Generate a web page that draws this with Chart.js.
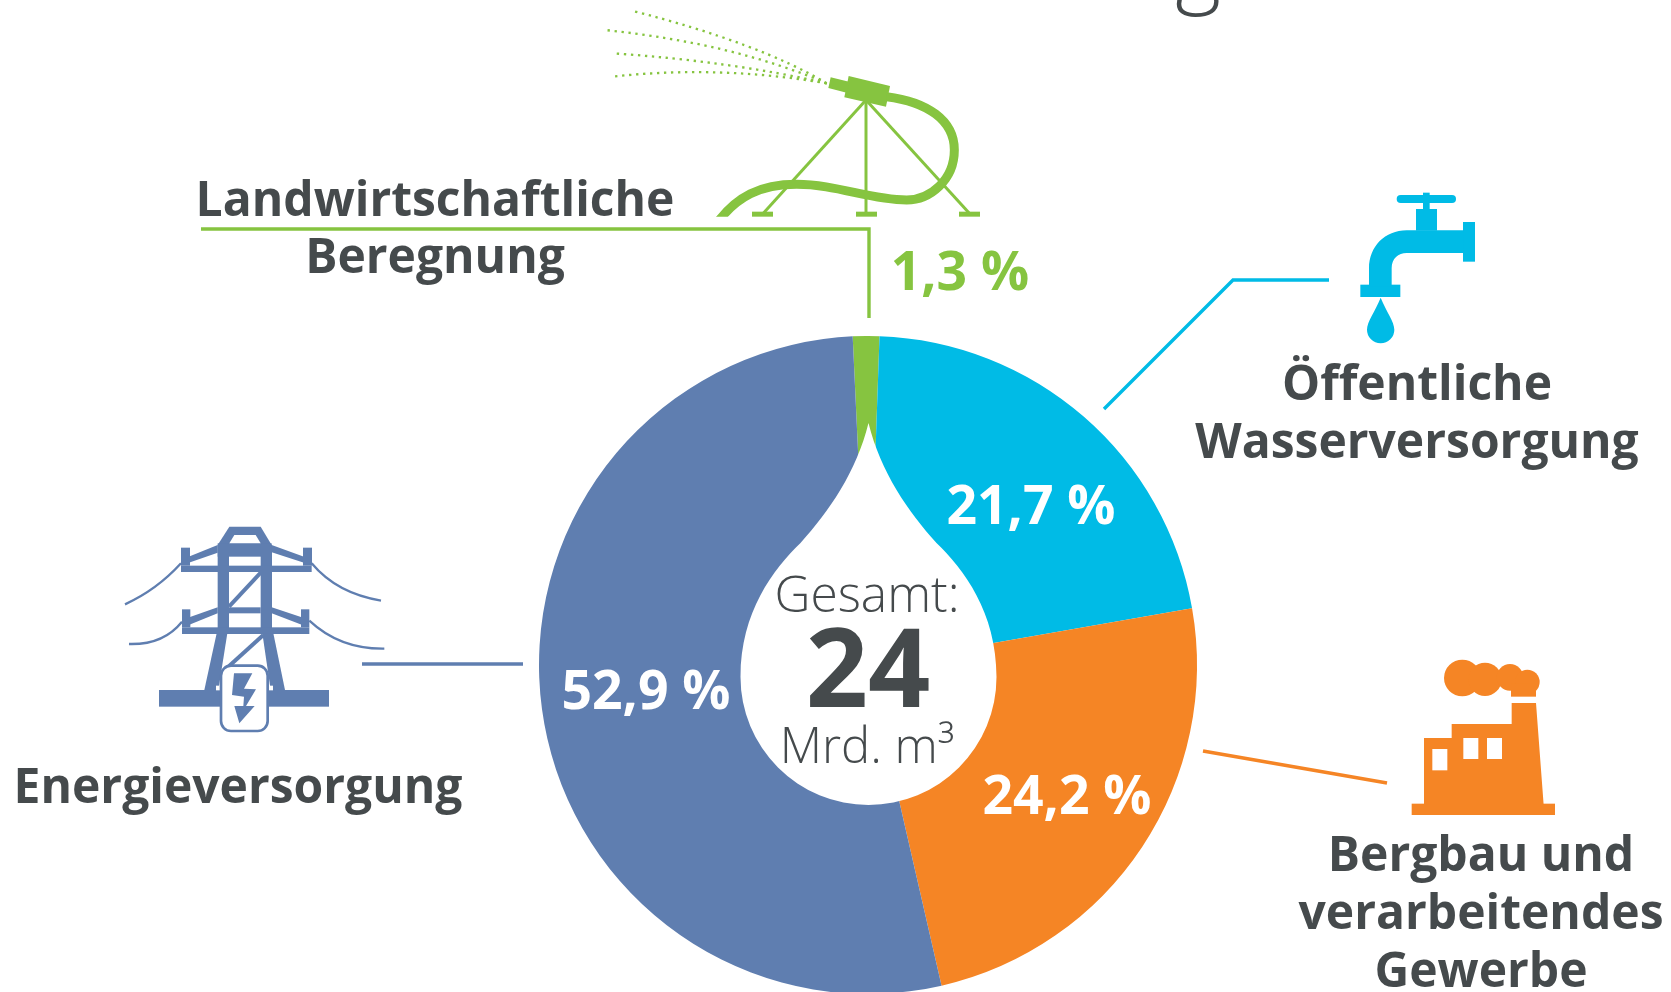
<!DOCTYPE html>
<html>
<head>
<meta charset="utf-8">
<title>Wassernutzung</title>
<script src="https://cdn.jsdelivr.net/npm/chart.js@4"></script>
<style>
  html, body { margin: 0; padding: 0; background: #fff; overflow: hidden; }
  #wrap { width: 1671px; height: 992px; overflow: hidden; }
  canvas { display: block; }
</style>
</head>
<body>
<div id="wrap"><canvas id="pie" width="1671" height="1000"></canvas></div>
<script>
const categories = ["Landwirtschaftliche Beregnung", "Öffentliche Wasserversorgung", "Bergbau und verarbeitendes Gewerbe", "Energieversorgung"];
const shares = [1.3, 21.7, 24.2, 52.9];
const colors = ["#86c440", "#00bbe6", "#f58525", "#5f7eb0"];
const totalLabel = ["Gesamt:", "24", "Mrd. m³"];

const dark = "#454a4c";

function path(ctx, pts) {
  ctx.beginPath();
  pts.forEach((p, i) => i ? ctx.lineTo(p[0], p[1]) : ctx.moveTo(p[0], p[1]));
  ctx.closePath();
  ctx.fill();
}

function line(ctx, pts, w) {
  ctx.lineWidth = w;
  ctx.beginPath();
  pts.forEach((p, i) => i ? ctx.lineTo(p[0], p[1]) : ctx.moveTo(p[0], p[1]));
  ctx.stroke();
}

function text(ctx, s, x, y, font, color) {
  ctx.font = font;
  ctx.fillStyle = color;
  ctx.textAlign = "center";
  ctx.textBaseline = "alphabetic";
  ctx.fillText(s, x, y);
}

// icons are drawn in the coordinates of a 3x crop, hence the scale
function sprinkler(ctx) {
  ctx.save();
  ctx.translate(560, 0);
  ctx.scale(1 / 3, 1 / 3);
  ctx.fillStyle = colors[0];
  ctx.strokeStyle = colors[0];
  ctx.lineWidth = 7;
  ctx.setLineDash([7, 14]);
  [[600, 130, 215, 32], [520, 130, 135, 90], [520, 185, 160, 160], [480, 195, 155, 230]].forEach(d => {
    ctx.beginPath();
    ctx.moveTo(800, 250);
    ctx.quadraticCurveTo(d[0], d[1], d[2], d[3]);
    ctx.stroke();
  });
  ctx.setLineDash([]);
  path(ctx, [[866, 228], [990, 258], [978, 320], [853, 292]]);
  path(ctx, [[812, 232], [870, 246], [860, 278], [805, 264]]);
  line(ctx, [[918, 300], [610, 640]], 9);
  line(ctx, [[918, 300], [918, 640]], 9);
  line(ctx, [[918, 300], [1228, 640]], 9);
  ctx.fillRect(576, 635, 63, 15);
  ctx.fillRect(888, 635, 63, 15);
  ctx.fillRect(1197, 635, 63, 15);
  ctx.save();
  ctx.beginPath();
  ctx.rect(400, 200, 900, 450);
  ctx.clip();
  ctx.lineWidth = 27;
  ctx.beginPath();
  ctx.moveTo(980, 290);
  ctx.bezierCurveTo(1100, 305, 1183, 360, 1183, 450);
  ctx.bezierCurveTo(1183, 540, 1110, 600, 1040, 600);
  ctx.bezierCurveTo(930, 600, 830, 553, 710, 553);
  ctx.bezierCurveTo(600, 553, 530, 590, 470, 670);
  ctx.stroke();
  ctx.restore();
  ctx.restore();
}

function tap(ctx) {
  ctx.save();
  ctx.translate(1300, 170);
  ctx.scale(1 / 3, 1 / 3);
  ctx.fillStyle = colors[1];
  ctx.beginPath();
  ctx.roundRect(290, 75, 178, 24, 12);
  ctx.fill();
  ctx.fillRect(369, 68, 20, 50);
  ctx.fillRect(348, 117, 63, 65);
  ctx.fillRect(489, 156, 36, 119);
  ctx.fillRect(181, 344, 120, 37);
  ctx.beginPath();
  ctx.moveTo(490, 181);
  ctx.lineTo(320, 181);
  ctx.bezierCurveTo(255, 181, 207, 230, 207, 295);
  ctx.lineTo(207, 350);
  ctx.lineTo(275, 350);
  ctx.lineTo(275, 295);
  ctx.bezierCurveTo(275, 265, 295, 249, 320, 249);
  ctx.lineTo(490, 249);
  ctx.closePath();
  ctx.fill();
  ctx.beginPath();
  ctx.moveTo(242, 383);
  ctx.bezierCurveTo(225, 425, 201, 455, 201, 479);
  ctx.arc(242, 479, 41, Math.PI, 0, true);
  ctx.bezierCurveTo(283, 455, 259, 425, 242, 383);
  ctx.fill();
  ctx.restore();
}

function factory(ctx) {
  ctx.save();
  ctx.translate(1180, 640);
  ctx.scale(1 / 3, 1 / 3);
  ctx.fillStyle = colors[2];
  ctx.fillRect(695, 491, 430, 34);
  path(ctx, [[732, 495], [732, 294], [815, 294], [815, 252], [995, 252], [995, 189], [1068, 189], [1091, 495]]);
  [[847, 114, 55], [915, 118, 50], [990, 112, 40], [1042, 126, 37]].forEach(c => {
    ctx.beginPath();
    ctx.arc(c[0], c[1], c[2], 0, Math.PI * 2);
    ctx.fill();
  });
  ctx.fillRect(993, 130, 75, 40);
  ctx.fillStyle = "#fff";
  ctx.fillRect(757, 327, 45, 64);
  ctx.fillRect(850, 294, 45, 63);
  ctx.fillRect(921, 294, 45, 63);
  ctx.restore();
}

function pylon(ctx) {
  ctx.save();
  ctx.translate(100, 500);
  ctx.scale(1 / 3, 1 / 3);
  ctx.fillStyle = colors[3];
  ctx.strokeStyle = colors[3];
  ctx.fillRect(177, 570, 510, 50);
  // head
  path(ctx, [[353, 135], [388, 80], [482, 80], [515, 135]]);
  ctx.fillRect(353, 130, 162, 40);
  ctx.fillStyle = "#fff";
  path(ctx, [[388, 130], [403, 105], [467, 105], [482, 130]]);
  ctx.fillStyle = colors[3];
  // columns and arms
  ctx.fillRect(353, 135, 34, 265);
  ctx.fillRect(482, 135, 34, 265);
  ctx.fillRect(387, 322, 95, 18);
  ctx.fillRect(243, 197, 392, 19);
  ctx.fillRect(243, 143, 27, 54);
  ctx.fillRect(609, 143, 27, 54);
  path(ctx, [[262, 172], [353, 135], [353, 158], [262, 190]]);
  path(ctx, [[515, 135], [612, 170], [612, 188], [515, 157]]);
  ctx.fillRect(246, 382, 382, 20);
  ctx.fillRect(246, 328, 25, 54);
  ctx.fillRect(603, 328, 25, 54);
  path(ctx, [[268, 352], [353, 322], [353, 340], [268, 374]]);
  path(ctx, [[515, 322], [605, 352], [605, 374], [515, 340]]);
  line(ctx, [[485, 215], [387, 320]], 12);
  path(ctx, [[350, 400], [382, 400], [355, 570], [313, 570]]);
  path(ctx, [[487, 400], [520, 400], [555, 570], [512, 570]]);
  line(ctx, [[490, 405], [380, 505]], 12);
  // wires
  ctx.lineWidth = 7;
  [[243, 190, 170, 270, 75, 313], [635, 190, 710, 280, 843, 302], [246, 365, 190, 435, 87, 432], [628, 362, 720, 448, 853, 446]].forEach(w => {
    ctx.beginPath();
    ctx.moveTo(w[0], w[1]);
    ctx.quadraticCurveTo(w[2], w[3], w[4], w[5]);
    ctx.stroke();
  });
  // box with the bolt
  ctx.fillStyle = "#fff";
  ctx.fillRect(348, 557, 12, 14);
  ctx.fillRect(505, 557, 14, 14);
  ctx.beginPath();
  ctx.roundRect(363, 497, 140, 196, 30);
  ctx.fill();
  ctx.lineWidth = 8;
  ctx.stroke();
  ctx.fillStyle = colors[3];
  path(ctx, [[402, 520], [457, 520], [432, 566], [468, 568], [438, 618], [464, 618], [418, 670], [403, 618], [430, 618], [432, 590], [396, 585]]);
  ctx.restore();
}

function leaders(ctx) {
  ctx.lineCap = "butt";
  ctx.lineJoin = "miter";
  ctx.strokeStyle = colors[0];
  line(ctx, [[201, 229], [869, 229], [869, 318]], 3.4);
  ctx.strokeStyle = colors[1];
  line(ctx, [[1329, 280], [1233, 280], [1104, 409]], 3.4);
  ctx.strokeStyle = colors[2];
  line(ctx, [[1203, 751], [1387, 783]], 3.4);
  ctx.strokeStyle = colors[3];
  line(ctx, [[362, 664], [523, 664]], 3.4);
}

function pct(v) {
  return v.toFixed(1).replace(".", ",") + " %";
}

const overlay = {
  id: "overlay",
  afterDatasetsDraw(chart) {
    const ctx = chart.ctx;
    const arc = chart.getDatasetMeta(0).data[0];
    const cx = arc.x + 0.5, cy = arc.y + 12;
    ctx.save();

    // white water drop in the middle
    ctx.fillStyle = "#fff";
    ctx.beginPath();
    ctx.moveTo(cx, cy - 254);
    ctx.bezierCurveTo(cx - 12, cy - 205, cx - 40, cy - 165, cx - 68, cy - 134);
    ctx.bezierCurveTo(cx - 95, cy - 108, cx - 128, cy - 65, cx - 128, cy);
    ctx.arc(cx, cy, 128, Math.PI, 0, true);
    ctx.bezierCurveTo(cx + 128, cy - 65, cx + 95, cy - 108, cx + 68, cy - 134);
    ctx.bezierCurveTo(cx + 40, cy - 165, cx + 12, cy - 205, cx, cy - 254);
    ctx.fill();

    leaders(ctx);
    sprinkler(ctx);
    tap(ctx);
    factory(ctx);
    pylon(ctx);

    const bold = "700 48px 'Open Sans'";
    const big = "700 53.5px 'Open Sans'";
    text(ctx, "Landwirtschaftliche", 435, 216, bold, dark);
    text(ctx, "Beregnung", 435, 273, bold, dark);
    text(ctx, "Öffentliche", 1417, 400, bold, dark);
    text(ctx, "Wasserversorgung", 1417, 458, bold, dark);
    text(ctx, "Energieversorgung", 238, 803, bold, dark);
    text(ctx, "Bergbau und", 1481, 871, bold, dark);
    text(ctx, "verarbeitendes", 1481, 929, bold, dark);
    text(ctx, "Gewerbe", 1481, 987, bold, dark);

    text(ctx, pct(shares[0]), 960, 290, big, colors[0]);
    text(ctx, pct(shares[1]), 1031, 524, big, "#fff");
    text(ctx, pct(shares[2]), 1067, 814, big, "#fff");
    text(ctx, pct(shares[3]), 646, 709, big, "#fff");

    text(ctx, totalLabel[0], 867, 612, "300 49.7px 'Open Sans'", dark);
    text(ctx, totalLabel[1], 868, 707, "700 109px 'Open Sans'", dark);
    text(ctx, totalLabel[2], 867, 763, "300 49px 'Open Sans'", dark);

    // tail of the cut off headline
    text(ctx, "g", 1198, -4, "300 88px 'Open Sans'", dark);
    ctx.restore();
  }
};

new Chart(document.getElementById("pie"), {
  type: "doughnut",
  data: {
    labels: categories,
    datasets: [{
      data: shares,
      backgroundColor: colors,
      borderWidth: 0
    }]
  },
  options: {
    responsive: false,
    animation: false,
    cutout: 100,
    rotation: -2.67,
    layout: { padding: { left: 539, right: 474, top: 336, bottom: 6 } },
    plugins: { legend: { display: false }, tooltip: { enabled: false }, title: { display: false } }
  },
  plugins: [overlay]
});
</script>
</body>
</html>
